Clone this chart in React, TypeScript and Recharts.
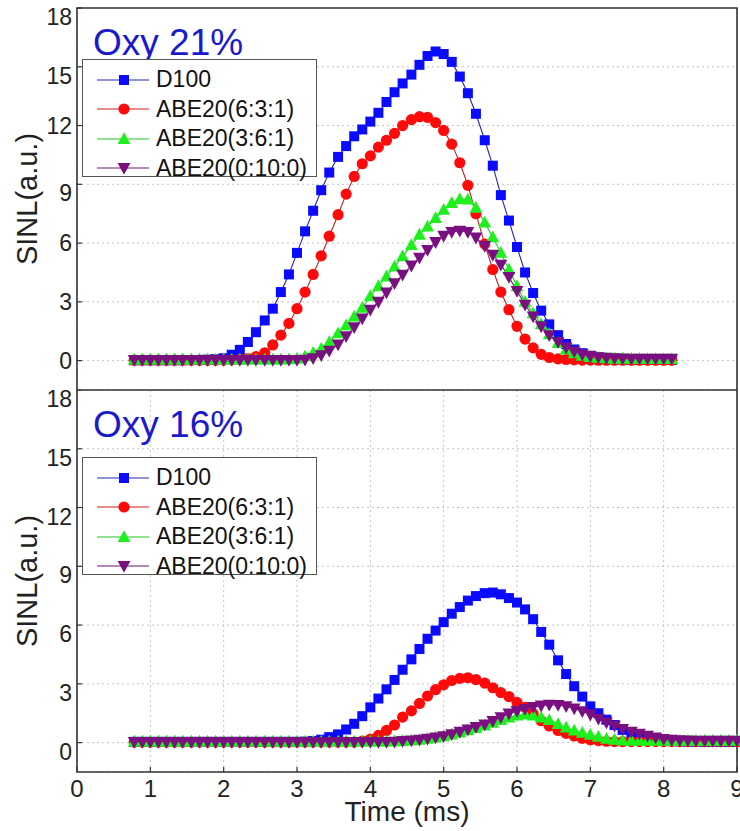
import { CartesianGrid, Legend, Line, LineChart, ReferenceArea, XAxis, YAxis } from 'recharts'

// time axis in ms (one crank-angle step apart)
const TIME = [
  0.78, 0.89, 1.0, 1.11, 1.22, 1.33, 1.44, 1.56, 1.67, 1.78,
  1.89, 2.0, 2.11, 2.22, 2.33, 2.44, 2.56, 2.67, 2.78, 2.89,
  3.0, 3.11, 3.22, 3.33, 3.44, 3.56, 3.67, 3.78, 3.89, 4.0,
  4.11, 4.22, 4.33, 4.44, 4.56, 4.67, 4.78, 4.89, 5.0, 5.11,
  5.22, 5.33, 5.44, 5.56, 5.67, 5.78, 5.89, 6.0, 6.11, 6.22,
  6.33, 6.44, 6.56, 6.67, 6.78, 6.89, 7.0, 7.11, 7.22, 7.33,
  7.44, 7.56, 7.67, 7.78, 7.89, 8.0, 8.11, 8.22, 8.33, 8.44,
  8.56, 8.67, 8.78, 8.89, 9.0,
]

// Oxy 21%
const D100_21 = [
  0.02, 0.02, 0.02, 0.02, 0.02, 0.02, 0.02, 0.03, 0.03, 0.05,
  0.07, 0.12, 0.3, 0.55, 0.95, 1.45, 2.05, 2.65, 3.5, 4.4,
  5.5, 6.6, 7.65, 8.7, 9.6, 10.4, 10.95, 11.45, 11.8, 12.2,
  12.65, 13.2, 13.7, 14.15, 14.6, 15.1, 15.55, 15.78, 15.65, 15.25,
  14.5, 13.65, 12.6, 11.25, 9.95, 8.45, 7.15, 5.8, 4.5, 3.45,
  2.55, 1.85, 1.3, 0.85, 0.57, 0.38, 0.25, 0.16, 0.11, 0.08,
  0.06, 0.05, 0.04, 0.04, 0.03, 0.03, 0.03,
]
const ABE631_21 = [
  0.02, 0.02, 0.02, 0.02, 0.02, 0.02, 0.02, 0.02, 0.02, 0.02,
  0.02, 0.03, 0.04, 0.06, 0.1, 0.2, 0.4, 0.8, 1.3, 1.9,
  2.65, 3.5, 4.4, 5.35, 6.35, 7.45, 8.5, 9.4, 10.05, 10.45,
  10.9, 11.25, 11.6, 12.0, 12.3, 12.45, 12.42, 12.15, 11.75, 11.05,
  10.1, 8.95, 7.5, 5.95, 4.65, 3.5, 2.6, 1.75, 1.1, 0.65,
  0.32, 0.16, 0.09, 0.06, 0.04, 0.03, 0.03, 0.02, 0.02, 0.02,
  0.02, 0.02, 0.02, 0.02, 0.02, 0.02, 0.02,
]
const ABE361_21 = [
  0.06, 0.06, 0.06, 0.06, 0.06, 0.06, 0.06, 0.06, 0.06, 0.06,
  0.06, 0.06, 0.06, 0.06, 0.06, 0.06, 0.06, 0.06, 0.06, 0.07,
  0.1, 0.22, 0.4, 0.6, 0.95, 1.4, 1.8, 2.25, 2.7, 3.3,
  3.8, 4.3, 4.8, 5.33, 5.9, 6.43, 6.85, 7.28, 7.7, 8.05,
  8.25, 8.22, 7.8, 7.05, 6.3, 5.5, 4.65, 3.8, 3.0, 2.42,
  1.85, 1.35, 0.9, 0.57, 0.37, 0.25, 0.18, 0.14, 0.12, 0.1,
  0.1, 0.09, 0.09, 0.08, 0.08, 0.08, 0.08,
]
const ABE0100_21 = [
  0.03, 0.03, 0.03, 0.03, 0.03, 0.03, 0.03, 0.03, 0.03, 0.03,
  0.03, 0.03, 0.03, 0.03, 0.03, 0.03, 0.03, 0.03, 0.03, 0.03,
  0.03, 0.05, 0.12, 0.28, 0.5, 0.82, 1.25, 1.7, 2.15, 2.6,
  3.0, 3.48, 3.95, 4.38, 4.85, 5.25, 5.65, 6.05, 6.37, 6.57,
  6.63, 6.57, 6.28, 5.85, 5.4, 4.9, 4.27, 3.55, 2.85, 2.25,
  1.75, 1.3, 0.95, 0.67, 0.47, 0.32, 0.23, 0.17, 0.14, 0.12,
  0.11, 0.1, 0.1, 0.1, 0.1, 0.1, 0.1,
]

// Oxy 16%
const D100_16 = [
  0.04, 0.04, 0.04, 0.04, 0.04, 0.04, 0.04, 0.04, 0.04, 0.04,
  0.04, 0.04, 0.04, 0.04, 0.04, 0.04, 0.04, 0.04, 0.04, 0.04,
  0.04, 0.05, 0.08, 0.15, 0.28, 0.42, 0.67, 0.96, 1.35, 1.8,
  2.25, 2.72, 3.2, 3.72, 4.25, 4.78, 5.3, 5.72, 6.15, 6.58,
  6.92, 7.25, 7.48, 7.63, 7.66, 7.57, 7.38, 7.15, 6.8, 6.3,
  5.65, 5.0, 4.2, 3.5, 2.88, 2.35, 1.85, 1.5, 1.17, 0.9,
  0.65, 0.45, 0.32, 0.22, 0.15, 0.11, 0.08, 0.06, 0.05, 0.05,
  0.04, 0.04, 0.04, 0.04, 0.04,
]
const ABE631_16 = [
  0.03, 0.03, 0.03, 0.03, 0.03, 0.03, 0.03, 0.03, 0.03, 0.03,
  0.03, 0.03, 0.03, 0.03, 0.03, 0.03, 0.03, 0.03, 0.03, 0.03,
  0.03, 0.03, 0.03, 0.03, 0.03, 0.03, 0.03, 0.03, 0.08, 0.18,
  0.37, 0.62, 0.9, 1.3, 1.62, 2.0, 2.38, 2.7, 2.95, 3.17,
  3.28, 3.31, 3.22, 3.04, 2.8, 2.55, 2.35, 2.05, 1.8, 1.48,
  1.12, 0.85, 0.62, 0.47, 0.34, 0.22, 0.15, 0.1, 0.07, 0.05,
  0.05, 0.05, 0.05, 0.05, 0.05, 0.05, 0.05, 0.05, 0.05, 0.05,
  0.05, 0.05, 0.05, 0.05, 0.05,
]
const ABE361_16 = [
  0.06, 0.06, 0.06, 0.06, 0.06, 0.06, 0.06, 0.06, 0.06, 0.06,
  0.06, 0.06, 0.06, 0.06, 0.06, 0.06, 0.06, 0.06, 0.06, 0.06,
  0.06, 0.06, 0.06, 0.06, 0.06, 0.06, 0.06, 0.06, 0.06, 0.06,
  0.06, 0.06, 0.07, 0.08, 0.11, 0.15, 0.2, 0.26, 0.33, 0.42,
  0.52, 0.63, 0.75, 0.88, 1.02, 1.16, 1.28, 1.38, 1.44, 1.38,
  1.28, 1.15, 0.95, 0.77, 0.62, 0.5, 0.4, 0.3, 0.2, 0.14,
  0.11, 0.1, 0.1, 0.1, 0.1, 0.1, 0.1, 0.1, 0.1, 0.1,
  0.1, 0.1, 0.1, 0.1, 0.1,
]
const ABE0100_16 = [
  0.03, 0.03, 0.03, 0.03, 0.03, 0.03, 0.03, 0.03, 0.03, 0.03,
  0.03, 0.03, 0.03, 0.03, 0.03, 0.03, 0.03, 0.03, 0.03, 0.03,
  0.03, 0.03, 0.03, 0.03, 0.03, 0.03, 0.03, 0.03, 0.03, 0.03,
  0.03, 0.03, 0.05, 0.08, 0.11, 0.15, 0.2, 0.26, 0.33, 0.43,
  0.55, 0.67, 0.8, 0.93, 1.1, 1.3, 1.48, 1.62, 1.72, 1.82,
  1.89, 1.93, 1.92, 1.86, 1.74, 1.6, 1.43, 1.22, 1.03, 0.86,
  0.7, 0.56, 0.45, 0.35, 0.26, 0.19, 0.14, 0.12, 0.11, 0.1,
  0.1, 0.1, 0.1, 0.1, 0.1,
]

const X_TICKS = [0, 1, 2, 3, 4, 5, 6, 7, 8, 9]
const Y_TICKS = [0, 3, 6, 9, 12, 15, 18]

type Shape = 'square' | 'circle' | 'triangle' | 'triangleDown'

const SERIES: { key: string; name: string; fill: string; stroke: string; shape: Shape }[] = [
  { key: 'd100', name: 'D100', fill: '#0a0aff', stroke: '#2626b4', shape: 'square' },
  { key: 'abe631', name: 'ABE20(6:3:1)', fill: '#ff0a0a', stroke: '#c42020', shape: 'circle' },
  { key: 'abe361', name: 'ABE20(3:6:1)', fill: '#1ef01e', stroke: '#22c422', shape: 'triangle' },
  { key: 'abe0100', name: 'ABE20(0:10:0)', fill: '#7a0f80', stroke: '#6a1470', shape: 'triangleDown' },
]

function buildRows(values: number[][]) {
  return TIME.slice(0, values[0].length).map((t, i) => ({
    t,
    d100: values[0][i],
    abe631: values[1][i],
    abe361: values[2][i],
    abe0100: values[3][i],
  }))
}

const DATA_21 = buildRows([D100_21, ABE631_21, ABE361_21, ABE0100_21])
const DATA_16 = buildRows([D100_16, ABE631_16, ABE361_16, ABE0100_16])

const FONT = '"Liberation Sans", Arial, sans-serif'

function Marker({ cx, cy, shape, fill }: { cx?: number; cy?: number; shape: Shape; fill: string }) {
  if (cx == null || cy == null || Number.isNaN(cy)) return null
  if (shape === 'square') return <rect x={cx - 5} y={cy - 5} width={10} height={10} fill={fill} />
  if (shape === 'circle') return <circle cx={cx} cy={cy} r={5.6} fill={fill} />
  const d = shape === 'triangle' ? 1 : -1
  return (
    <polygon
      points={`${cx},${cy - 6.8 * d} ${cx + 6.4},${cy + 5 * d} ${cx - 6.4},${cy + 5 * d}`}
      fill={fill}
    />
  )
}

function LegendBox() {
  return (
    <div
      style={{
        width: 235,
        height: 118,
        boxSizing: 'border-box',
        border: '1px solid #555',
        background: '#fff',
        paddingTop: 5,
        fontFamily: FONT,
      }}
    >
      {SERIES.map((s) => (
        <div key={s.key} style={{ display: 'flex', alignItems: 'center', height: 29.5 }}>
          <svg width={73} height={20} style={{ flex: 'none' }}>
            <line x1={14} x2={66} y1={10} y2={10} stroke={s.stroke} strokeWidth={1.2} />
            <Marker cx={41} cy={10} shape={s.shape} fill={s.fill} />
          </svg>
          <span style={{ fontSize: 23, color: '#111', lineHeight: '29.5px', whiteSpace: 'nowrap' }}>{s.name}</span>
        </div>
      ))}
    </div>
  )
}

function PanelTitle({ viewBox, text }: any) {
  if (!viewBox) return null
  return (
    <text x={viewBox.x + 16} y={viewBox.y + 47} fill="#1a1acc" fontSize={37}>
      {text}
    </text>
  )
}

function YTitle({ viewBox }: any) {
  if (!viewBox) return null
  const cx = viewBox.x + 37
  const cy = viewBox.y + viewBox.height / 2
  return (
    <text x={cx} y={cy} transform={`rotate(-90 ${cx} ${cy})`} textAnchor="middle" fill="#222" fontSize={29}>
      SINL(a.u.)
    </text>
  )
}

function YTick({ x, y, payload, shifted }: any) {
  const dy = shifted.includes(payload.value) ? 17 : 8
  return (
    <text x={x} y={y + dy} textAnchor="end" fill="#222" fontSize={23}>
      {payload.value}
    </text>
  )
}

function Panel({
  title,
  data,
  top,
  height,
  marginTop,
  showX,
  shifted,
}: {
  title: string
  data: Record<string, number>[]
  top: number
  height: number
  marginTop: number
  showX: boolean
  shifted: number[]
}) {
  return (
    <div style={{ position: 'absolute', left: 0, top }}>
      <LineChart width={740} height={height} data={data} margin={{ top: marginTop, right: 3, bottom: 0, left: 0 }}>
        <CartesianGrid stroke="#c4c4c4" strokeDasharray="2 3" />
        <XAxis
          type="number"
          dataKey="t"
          domain={[0, 9]}
          ticks={X_TICKS}
          interval={0}
          height={showX ? 59 : 0}
          axisLine={false}
          tickSize={-5}
          tickMargin={13}
          tickLine={{ stroke: '#333', strokeWidth: 1.2 }}
          tick={showX ? { fill: '#222', fontSize: 24 } : false}
          label={showX ? { value: 'Time (ms)', position: 'insideBottom', offset: 10, fill: '#222', fontSize: 28 } : undefined}
        />
        <YAxis
          type="number"
          domain={[-1.5, 18]}
          ticks={Y_TICKS}
          interval={0}
          width={77}
          axisLine={false}
          tickSize={-5}
          tickMargin={10}
          tickLine={{ stroke: '#333', strokeWidth: 1.2 }}
          tick={<YTick shifted={shifted} />}
          label={<YTitle />}
        />
        <ReferenceArea
          x1={0}
          x2={9}
          y1={-1.5}
          y2={18}
          fill="none"
          stroke="#333"
          strokeWidth={1.6}
          label={<PanelTitle text={title} />}
        />
        {SERIES.map((s) => (
          <Line
            key={s.key}
            dataKey={s.key}
            name={s.name}
            type="linear"
            stroke={s.stroke}
            strokeWidth={1.1}
            isAnimationActive={false}
            activeDot={false}
            dot={(p: any) => (
              <Marker key={`${s.key}-${p.index}`} cx={p.cx} cy={p.cy} shape={s.shape} fill={s.fill} />
            )}
          />
        ))}
        <Legend
          layout="vertical"
          align="center"
          verticalAlign="middle"
          content={<LegendBox />}
          wrapperStyle={{ left: 82, top: 67 - marginTop, width: 'auto' }}
        />
      </LineChart>
    </div>
  )
}

export default function App() {
  return (
    <div
      style={{
        position: 'absolute',
        left: 0,
        top: 0,
        width: 740,
        height: 831,
        background: '#fff',
        fontFamily: FONT,
      }}
    >
      <Panel title="Oxy 21%" data={DATA_21} top={0} height={390} marginTop={8} showX={false} shifted={[18, 15, 9]} />
      <Panel title="Oxy 16%" data={DATA_16} top={390} height={441} marginTop={0} showX shifted={Y_TICKS} />
    </div>
  )
}
